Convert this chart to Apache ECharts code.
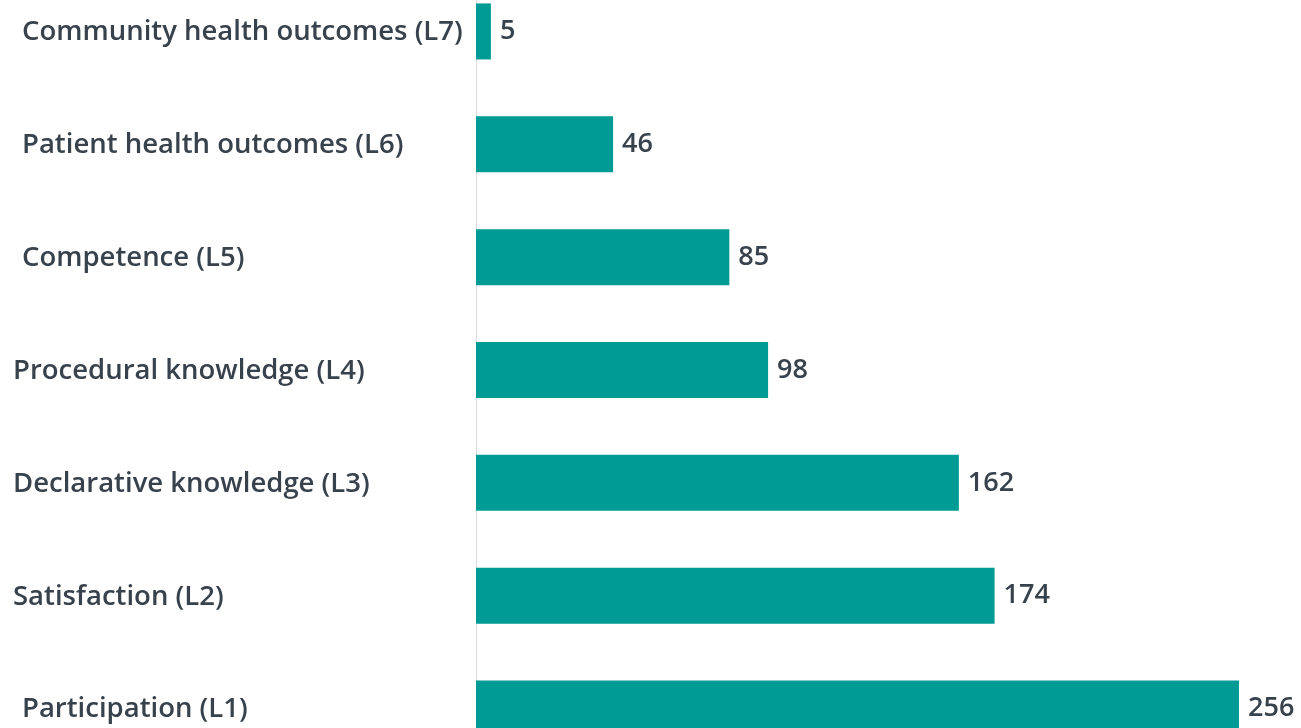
<!DOCTYPE html>
<html>
<head>
<meta charset="utf-8">
<script src="https://cdn.jsdelivr.net/npm/echarts@6/dist/echarts.min.js"></script>
<style>
  html, body { margin: 0; padding: 0; background: #ffffff; overflow: hidden; }
  body { position: relative; width: 1301px; height: 728px; }
  /* bands run past the top and bottom edges of the page */
  #chart { position: absolute; left: 0; top: -25px; width: 1301px; height: 790px; }
</style>
</head>
<body>
<div id="chart"></div>
<script>
// Evaluation outcome levels, listed bottom (L1) to top (L7)
const categories = [
  'Participation (L1)',
  'Satisfaction (L2)',
  'Declarative knowledge (L3)',
  'Procedural knowledge (L4)',
  'Competence (L5)',
  'Patient health outcomes (L6)',
  'Community health outcomes (L7)'
];
const counts = [256, 174, 162, 98, 85, 46, 5];
// Labels drawn slightly further left
const shiftedLeft = ['Satisfaction (L2)', 'Declarative knowledge (L3)', 'Procedural knowledge (L4)'];

const font = '"Open Sans", Lato, sans-serif';
const textColor = '#38424d';
const chart = echarts.init(document.getElementById('chart'));
chart.setOption({
  animation: false,
  grid: { left: 476, right: 62, top: 0, bottom: 0, containLabel: false },
  xAxis: {
    type: 'value',
    min: 0,
    max: 256,
    show: false
  },
  yAxis: {
    type: 'category',
    data: categories,
    axisLine: { show: true, lineStyle: { color: '#d9d9d9', width: 1 } },
    axisTick: { show: false },
    splitLine: { show: false },
    axisLabel: {
      align: 'left',
      margin: 463,
      formatter: function (v) {
        return shiftedLeft.indexOf(v) >= 0 ? '{b|' + v + '}' : '{a|' + v + '}';
      },
      rich: {
        a: { fontFamily: font, fontSize: 27.5, fontWeight: 600, color: textColor, padding: [2, 0, 0, 9] },
        b: { fontFamily: font, fontSize: 27.5, fontWeight: 600, color: textColor, padding: [2, 0, 0, 0] }
      }
    }
  },
  series: [{
    type: 'bar',
    data: counts,
    barWidth: 56,
    itemStyle: { color: '#009b95' },
    label: {
      show: true,
      position: 'right',
      distance: 9,
      fontFamily: font,
      fontSize: 27,
      fontWeight: 600,
      color: textColor
    }
  }]
});
</script>
</body>
</html>
